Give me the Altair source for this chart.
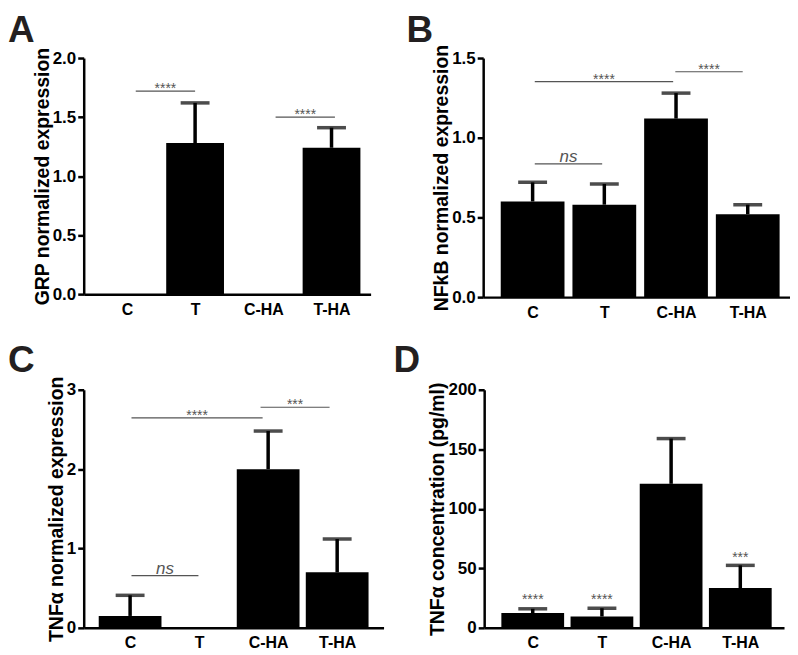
import altair as alt
import pandas as pd

categories = ["C", "T", "C-HA", "T-HA"]
positions = [0, 1, 2, 3]
letters = ["A", "B", "C", "D"]

# Panel A: GRP
grp_mean = [0.0, 1.28, 0.0, 1.24]
grp_sem = [0.0, 0.34, 0.0, 0.17]
# Panel B: NFkB
nfkb_mean = [0.60, 0.58, 1.12, 0.52]
nfkb_sem = [0.12, 0.13, 0.16, 0.06]
# Panel C: TNFa expression
tnf_mean = [0.15, 0.0, 2.00, 0.70]
tnf_sem = [0.26, 0.0, 0.48, 0.42]
# Panel D: TNFa concentration
elisa_mean = [12.5, 9.5, 121.0, 33.5]
elisa_sem = [3.5, 7.0, 38.0, 19.0]

# significance brackets: start pos, end pos, height, label
sigA_x1 = [0.13, 2.18]
sigA_x2 = [1.0, 3.05]
sigA_y = [1.72, 1.50]
sigA_lab = ["****", "****"]

sigB_x1 = [0.03, 0.03, 1.99]
sigB_x2 = [0.97, 1.96, 2.93]
sigB_y = [0.836, 1.352, 1.414]
sigB_lab = ["ns", "****", "****"]

sigC_x1 = [0.02, 0.02, 1.89]
sigC_x2 = [0.99, 1.92, 2.89]
sigC_y = [0.657, 2.645, 2.78]
sigC_lab = ["ns", "****", "***"]

starsD_pos = [0, 1, 3]
starsD_y = [20.0, 20.0, 55.0]
starsD_lab = ["****", "****", "***"]

FONT = "Liberation Sans"
label_expr = "['C','T','C-HA','T-HA'][datum.value]"


def panel(letter, lx, ly, means, sems, ytitle, ydom, yvals, yfmt, xdom, w, h, barw,
          sig=None, stars=None):
    df = pd.DataFrame({"cat": categories, "pos": positions, "mean": means, "sem": sems})
    xscale = alt.Scale(domain=xdom, nice=False, zero=False)
    yscale = alt.Scale(domain=ydom, nice=False)
    xaxis = alt.Axis(values=positions, labelExpr=label_expr, ticks=False, grid=False,
                     labelPadding=7, labelFontSize=16)
    yaxis = alt.Axis(values=yvals, format=yfmt, grid=False, tickSize=6,
                     labelPadding=2, titlePadding=0)

    def X(f):
        return alt.X(f, type="quantitative", scale=xscale, axis=xaxis, title=None)

    def Y(f):
        return alt.Y(f, type="quantitative", scale=yscale, axis=yaxis, title=ytitle)

    base = alt.Chart(df)
    bars = base.mark_bar(width=barw, color="black", orient="vertical").encode(
        x=X("pos"), y=Y("mean"))
    err = base.transform_filter("datum.sem > 0").transform_calculate(
        top="datum.mean + datum.sem")
    err_rule = err.mark_rule(strokeWidth=3.5, color="black").encode(
        x=X("pos"), y=Y("mean"), y2="top:Q")
    err_cap = err.mark_tick(orient="horizontal", size=29, thickness=3.5,
                            color="black").encode(x=X("pos"), y=Y("top"))
    layers = [bars, err_rule, err_cap]

    if sig is not None:
        sdf = pd.DataFrame({"x1": sig[0], "x2": sig[1], "y": sig[2], "lab": sig[3]})
        sb = alt.Chart(sdf)
        layers.append(sb.mark_rule(color="#555555", strokeWidth=1.2).encode(
            x=X("x1"), x2="x2:Q", y=Y("y")))
        sbt = sb.transform_calculate(xm="(datum.x1 + datum.x2) / 2")
        layers.append(sbt.transform_filter("datum.lab != 'ns'").mark_text(
            font=FONT, fontSize=14, color="#555555", baseline="alphabetic", dy=2).encode(
            x=X("xm"), y=Y("y"), text="lab:N"))
        layers.append(sbt.transform_filter("datum.lab == 'ns'").mark_text(
            font=FONT, fontSize=17, fontStyle="italic", color="#555555",
            baseline="alphabetic", dy=-2).encode(
            x=X("xm"), y=Y("y"), text="lab:N"))
    if stars is not None:
        tdf = pd.DataFrame({"pos": stars[0], "y": stars[1], "lab": stars[2]})
        layers.append(alt.Chart(tdf).mark_text(
            font=FONT, fontSize=14, color="#555555", baseline="alphabetic").encode(
            x=X("pos"), y=Y("y"), text="lab:N"))

    letter_layer = alt.Chart(pd.DataFrame({"t": [letter]})).mark_text(
        font=FONT, fontSize=37, fontWeight="bold", color="#231f20",
        align="left", baseline="alphabetic").encode(
        x=alt.value(lx), y=alt.value(ly), text="t:N")
    layers.append(letter_layer)

    return alt.layer(*layers).properties(width=w, height=h)


pA = panel(letters[0], -76, -16, grp_mean, grp_sem, "GRP normalized expression", [0, 2],
           [0, 0.5, 1.0, 1.5, 2.0], ".1f", [-0.56, 3.5], 288, 237, 58,
           sig=(sigA_x1, sigA_x2, sigA_y, sigA_lab))
pB = panel(letters[1], -77, -16, nfkb_mean, nfkb_sem, "NFkB normalized expression", [0, 1.5],
           [0, 0.5, 1.0, 1.5], ".1f", [-0.62, 3.52], 308, 240, 64,
           sig=(sigB_x1, sigB_x2, sigB_y, sigB_lab))
pC = panel(letters[2], -76, -18, tnf_mean, tnf_sem, "TNFα normalized expression", [0, 3],
           [0, 1, 2, 3], "d", [-0.6, 3.6], 301, 239, 63,
           sig=(sigC_x1, sigC_x2, sigC_y, sigC_lab))
pD = panel(letters[3], -91, -18, elisa_mean, elisa_sem, "TNFα concentration (pg/ml)", [0, 200],
           [0, 50, 100, 150, 200], "d", [-0.63, 3.56], 301, 239, 63,
           stars=(starsD_pos, starsD_y, starsD_lab))

row1 = alt.hconcat(pA, pB, spacing=36)
row2 = alt.hconcat(pC, pD, spacing=10)

chart = alt.vconcat(row1, row2, spacing=22).properties(
    padding={"left": 0, "top": 3, "right": 0, "bottom": 0},
    background="white",
).configure_view(stroke=None).configure_axis(
    domainColor="black", domainWidth=2.5, tickColor="black", tickWidth=2.5,
    labelFont=FONT, labelFontWeight="bold", labelColor="black", labelFontSize=17,
    titleFont=FONT, titleFontWeight="bold", titleColor="black", titleFontSize=19.5,
)

chart.save("out.html", embed_options={"renderer": "svg", "actions": False})
